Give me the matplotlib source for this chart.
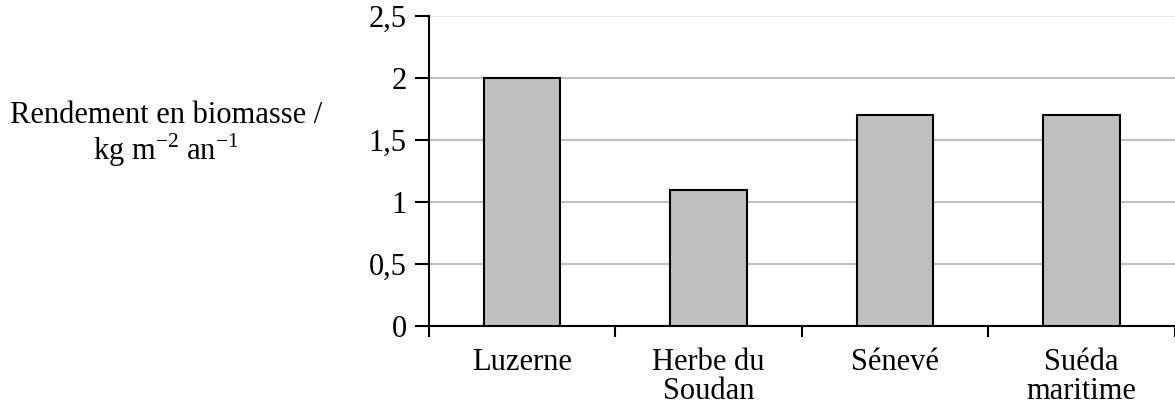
import numpy as np
import matplotlib
matplotlib.use('Agg')
import matplotlib.pyplot as plt

plt.rcParams['font.family'] = ['Liberation Serif', 'DejaVu Serif']
plt.rcParams['mathtext.fontset'] = 'custom'
plt.rcParams['mathtext.rm'] = 'Liberation Serif'

categories = ['Luzerne', 'Herbe du\nSoudan', 'Sénevé', 'Suéda\nmaritime']
rendement = [2.0, 1.1, 1.7, 1.7]
yticks = [0, 0.5, 1, 1.5, 2, 2.5]
ytick_labels = ['0', '0,5', '1', '1,5', '2', '2,5']

fig = plt.figure(figsize=(11.75, 4.07), dpi=100)
ax = fig.add_axes([0.365, 0.199, 0.635, 0.762])

x = np.arange(len(categories))
ax.bar(x, rendement, width=0.41, color='#c0c0c0', edgecolor='black', linewidth=1.5, zorder=3)

ax.set_xlim(-0.5, 3.5)
ax.set_ylim(0, 2.5)
ax.set_yticks(yticks)
ax.set_yticklabels(ytick_labels, fontsize=22)
ax.set_xticks(x)
ax.set_xticklabels(categories, fontsize=22, linespacing=1.0)
ax.tick_params(axis='x', length=0, pad=16)
ax.set_xticks(np.arange(-0.5, 3.6, 1), minor=True)
ax.tick_params(axis='x', which='minor', length=8, width=1.5, direction='out')
ax.tick_params(axis='y', length=10, width=1.5, direction='out', pad=6)

ax.yaxis.grid(True, color='#c0c0c0', linewidth=1.5, zorder=0)
ax.set_axisbelow(True)
gl = ax.get_ygridlines()
gl[-1].set_color('#e6e6e6')

for s in ['top', 'right']:
    ax.spines[s].set_visible(False)
for s in ['left', 'bottom']:
    ax.spines[s].set_linewidth(1.5)

fig.text(0.141, 0.717, 'Rendement en biomasse /', fontsize=22, ha='center', va='center')
fig.text(0.141, 0.63, r'kg m$^{\mathregular{-2}}$ an$^{\mathregular{-1}}$', fontsize=22, ha='center', va='center')

fig.savefig('out.png', dpi=100)
